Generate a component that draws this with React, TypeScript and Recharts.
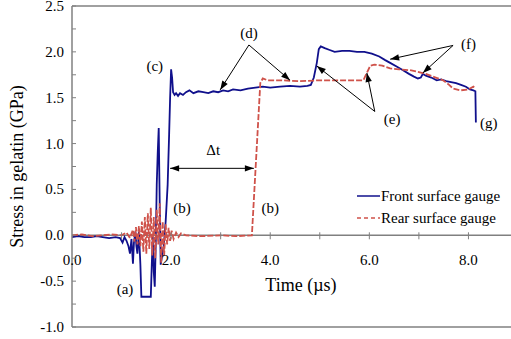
import { LineChart, Line, XAxis, YAxis, ReferenceLine, ReferenceDot, Legend } from 'recharts';

// front surface gauge trace (time in µs, stress in GPa)
const frontTime = [
  0, 0.12, 0.25, 0.38, 0.5, 0.62, 0.75, 0.88, 0.97, 1.02, 1.06, 1.1, 1.14, 1.17, 1.2, 1.23, 1.25, 1.28, 1.3, 1.32,
  1.35, 1.38, 1.4, 1.5, 1.59, 1.61, 1.63, 1.65, 1.67, 1.69, 1.71, 1.73, 1.75, 1.77, 1.79, 1.82, 1.85, 1.89, 1.93, 1.96,
  1.98, 2.0, 2.02, 2.04, 2.07, 2.1, 2.14, 2.18, 2.24, 2.3, 2.37, 2.45, 2.55, 2.65, 2.75, 2.85, 2.95, 3.05, 3.15, 3.25,
  3.4, 3.55, 3.7, 3.85, 4.0, 4.2, 4.4, 4.6, 4.75, 4.82, 4.88, 4.94, 4.98, 5.02, 5.1, 5.2, 5.3, 5.45, 5.6, 5.75,
  5.9, 6.05, 6.2, 6.32, 6.42, 6.55, 6.68, 6.8, 6.9, 6.98, 7.04, 7.08, 7.14, 7.25, 7.36, 7.45, 7.55, 7.65, 7.75, 7.85,
  7.95, 8.03, 8.1, 8.14, 8.15,
];
const frontStress = [
  -0.02, -0.01, -0.02, -0.02, -0.01, -0.02, -0.03, -0.02, -0.03, -0.08, -0.02, -0.06, -0.12, -0.2, -0.04, -0.31, -0.08, 0.04, -0.12, -0.2,
  0.04, -0.32, -0.67, -0.67, -0.67, -0.32, -0.02, -0.4, -0.56, -0.1, 0.55, 0.9, 1.17, 0.35, -0.32, -0.22, -0.12, 0.15, 0.55, 1.1,
  1.5, 1.81, 1.72, 1.56, 1.53, 1.55, 1.52, 1.55, 1.53, 1.56, 1.58, 1.55, 1.57, 1.56, 1.55, 1.57, 1.56, 1.58, 1.57, 1.59,
  1.58, 1.6, 1.61, 1.62, 1.61, 1.62, 1.63, 1.62, 1.63, 1.64, 1.72, 1.88, 2.03, 2.06, 2.04, 2.02, 2.0, 2.01, 2.01, 2.0,
  2.0, 1.98, 1.95, 1.91, 1.88, 1.84, 1.8, 1.76, 1.73, 1.71, 1.72, 1.76, 1.74, 1.72, 1.69, 1.7, 1.68, 1.67, 1.66, 1.64,
  1.62, 1.59, 1.58, 1.57, 1.23,
];

// rear surface gauge trace
const rearTime = [
  0, 0.2, 0.4, 0.6, 0.8, 1.0, 1.1, 1.17, 1.2, 1.23, 1.26, 1.29, 1.32, 1.35, 1.38, 1.41, 1.44, 1.47, 1.5, 1.53,
  1.56, 1.59, 1.62, 1.65, 1.68, 1.71, 1.74, 1.77, 1.8, 1.83, 1.86, 1.89, 1.92, 1.95, 1.98, 2.01, 2.05, 2.1, 2.15, 2.2,
  2.3, 2.6, 3.0, 3.3, 3.63, 3.8, 3.85, 3.95, 4.2, 4.6, 5.0, 5.4, 5.88, 5.95, 6.02, 6.1, 6.26, 6.42, 6.6, 6.82,
  7.0, 7.14, 7.34, 7.49, 7.61, 7.69, 7.83, 8.0, 8.1, 8.14,
];
const rearStress = [
  0.0, 0.01, -0.01, 0.0, 0.01, 0.0, 0.03, -0.03, 0.02, 0.06, -0.07, 0.09, -0.1, 0.1, -0.12, 0.15, -0.18, 0.2, -0.2, 0.24,
  -0.15, 0.3, -0.22, 0.2, -0.25, 0.28, -0.1, 0.35, -0.3, 0.15, -0.22, 0.12, -0.1, 0.08, -0.06, 0.05, -0.04, 0.03, -0.02, 0.02,
  0.0, -0.01, 0.0, -0.01, 0.0, 1.66, 1.71, 1.69, 1.69, 1.68, 1.69, 1.69, 1.69, 1.77, 1.85, 1.86, 1.85, 1.82, 1.81, 1.8,
  1.78, 1.76, 1.72, 1.69, 1.64, 1.6, 1.58, 1.59, 1.62, 1.6,
];

const xTicks = [0, 1, 2, 3, 4, 5, 6, 7, 8];
const yTicks = [-1, -0.75, -0.5, -0.25, 0, 0.25, 0.5, 0.75, 1, 1.25, 1.5, 1.75, 2, 2.25, 2.5];

// annotation labels
const noteText = ['(a)', '(b)', '(b)', '(c)', '(d)', '(e)', '(f)', '(g)', 'Δt'];
const noteTime = [1.07, 2.22, 4.0, 1.67, 3.57, 6.46, 8.0, 8.41, 2.85];
const noteStress = [-0.585, 0.3, 0.3, 1.85, 2.21, 1.27, 2.09, 1.22, 0.93];

// annotation arrows: start -> tip
const arrowFromT = [3.57, 3.57, 6.11, 6.11, 7.69, 7.69, 1.98];
const arrowFromS = [2.075, 2.075, 1.35, 1.35, 2.07, 2.07, 0.73];
const arrowToT = [2.99, 4.4, 4.94, 5.95, 6.42, 7.08, 3.67];
const arrowToS = [1.585, 1.69, 1.846, 1.77, 1.92, 1.77, 0.73];
const arrowDouble = [false, false, false, false, false, false, true];

const BLUE = '#10108c';
const RED = '#cf524a';
const GREY = '#808080';
const FONT = "'Liberation Serif', 'Times New Roman', Times, serif";

const W = 530;
const H = 339;
const M = { top: 6, right: 12, left: 12, bottom: 0 };
const X_AXIS_H = 12;
const Y_MIN = -1;
const Y_MAX = 2.5;
const PLOT_H = H - M.top - M.bottom - X_AXIS_H;
const ZERO_UP = (PLOT_H * (0 - Y_MIN)) / (Y_MAX - Y_MIN);

const frontData = frontTime.map((t, i) => ({ t, s: frontStress[i] }));
const rearData = rearTime.map((t, i) => ({ t, s: rearStress[i] }));

const textStyle = { fontFamily: FONT };

function XTick(props: any) {
  const { x, y, payload } = props;
  const y0 = y - ZERO_UP;
  const v = payload.value;
  return (
    <g>
      {v > 0 && <line x1={x} x2={x} y1={y0 - 3} y2={y0 + 4} stroke={GREY} strokeWidth={1} />}
      {v % 2 === 0 && (
        <text x={x} y={y0 + 30} textAnchor="middle" style={textStyle} fontSize={15} fill="#000">
          {v.toFixed(1)}
        </text>
      )}
    </g>
  );
}

function YTick(props: any) {
  const { x, y, payload } = props;
  const v = payload.value;
  const major = Math.abs(v * 2 - Math.round(v * 2)) < 1e-6;
  return (
    <g>
      <line x1={x + 8} x2={x + 12} y1={y} y2={y} stroke={GREY} strokeWidth={1} />
      {major && (
        <text x={x} y={y + 5} textAnchor="end" style={textStyle} fontSize={15} fill="#000">
          {v.toFixed(1)}
        </text>
      )}
    </g>
  );
}

function head(xa: number, ya: number, xb: number, yb: number) {
  const a = Math.atan2(yb - ya, xb - xa);
  const L = 9;
  const w = 3.2;
  const bx = xb - L * Math.cos(a);
  const by = yb - L * Math.sin(a);
  return `${xb},${yb} ${bx + w * Math.sin(a)},${by - w * Math.cos(a)} ${bx - w * Math.sin(a)},${by + w * Math.cos(a)}`;
}

function arrowShape(double: boolean) {
  return (p: any) => {
    const { x1, y1, x2, y2 } = p;
    return (
      <g>
        <line x1={x1} y1={y1} x2={x2} y2={y2} stroke="#000" strokeWidth={1} />
        <polygon points={head(x1, y1, x2, y2)} fill="#000" />
        {double && <polygon points={head(x2, y2, x1, y1)} fill="#000" />}
      </g>
    );
  };
}

function noteShape(text: string, size: number) {
  return (p: any) => (
    <text x={p.cx} y={p.cy + size * 0.33} textAnchor="middle" style={textStyle} fontSize={size} fill="#000">
      {text}
    </text>
  );
}

function LegendBox() {
  const rows = [
    { name: 'Front surface gauge', color: BLUE, dash: undefined },
    { name: 'Rear surface gauge', color: RED, dash: '4 3' },
  ];
  return (
    <div style={{ fontFamily: FONT, fontSize: 15, color: '#000' }}>
      {rows.map((r) => (
        <div key={r.name} style={{ display: 'flex', alignItems: 'center', height: 22, whiteSpace: 'nowrap' }}>
          <svg width={26} height={10} style={{ marginRight: 1 }}>
            <line x1={3} x2={26} y1={5} y2={5} stroke={r.color} strokeWidth={1.5} strokeDasharray={r.dash} />
          </svg>
          <span>{r.name}</span>
        </div>
      ))}
    </div>
  );
}

export default function App() {
  return (
    <div
      style={{
        position: 'absolute',
        left: 0,
        top: 0,
        width: 511,
        height: 339,
        overflow: 'hidden',
        background: '#fff',
        fontFamily: FONT,
      }}
    >
      <LineChart width={W} height={H} margin={M} style={{ fontFamily: FONT }}>
        <XAxis
          type="number"
          dataKey="t"
          domain={[0, 9]}
          ticks={xTicks}
          interval={0}
          tickLine={false}
          tickSize={0}
          tickMargin={0}
          height={X_AXIS_H}
          axisLine={{ stroke: GREY, strokeWidth: 1.5 }}
          tick={<XTick />}
          allowDataOverflow
        />
        <YAxis
          type="number"
          domain={[Y_MIN, Y_MAX]}
          ticks={yTicks}
          interval={0}
          width={60}
          tickLine={false}
          tickSize={0}
          tickMargin={8}
          axisLine={{ stroke: GREY, strokeWidth: 1.5 }}
          tick={<YTick />}
          allowDataOverflow
          label={{
            value: 'Stress in gelatin (GPa)',
            angle: -90,
            position: 'insideLeft',
            fontSize: 18,
            fill: '#000',
            style: { textAnchor: 'middle', fontFamily: FONT, fontSize: 18 },
          }}
        />
        <ReferenceLine y={0} stroke={GREY} strokeWidth={1.5} />
        <ReferenceLine y={Y_MAX} stroke={GREY} strokeWidth={1.5} />
        <Legend
          layout="vertical"
          align="center"
          verticalAlign="middle"
          wrapperStyle={{ left: 354, top: 185, width: 'auto' }}
          content={() => <LegendBox />}
        />
        <Line
          data={frontData}
          dataKey="s"
          name="Front surface gauge"
          type="linear"
          stroke={BLUE}
          strokeWidth={1.8}
          dot={false}
          isAnimationActive={false}
        />
        <Line
          data={rearData}
          dataKey="s"
          name="Rear surface gauge"
          type="linear"
          stroke={RED}
          strokeWidth={1.8}
          strokeDasharray="6 2"
          dot={false}
          isAnimationActive={false}
        />
        {arrowFromT.map((t, i) => (
          <ReferenceLine
            key={'a' + i}
            segment={[
              { x: t, y: arrowFromS[i] },
              { x: arrowToT[i], y: arrowToS[i] },
            ]}
            shape={arrowShape(arrowDouble[i])}
          />
        ))}
        {noteText.map((txt, i) => (
          <ReferenceDot key={'n' + i} x={noteTime[i]} y={noteStress[i]} r={1} shape={noteShape(txt, 15)} />
        ))}
        <ReferenceDot x={4.62} y={-0.54} r={1} shape={noteShape('Time (µs)', 18)} />
      </LineChart>
    </div>
  );
}
